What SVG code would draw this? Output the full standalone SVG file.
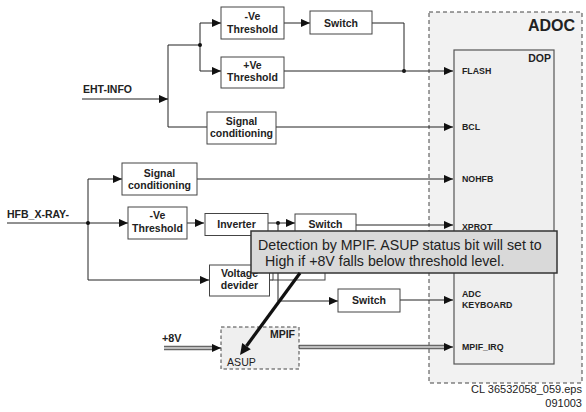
<svg xmlns="http://www.w3.org/2000/svg" width="586" height="412" viewBox="0 0 586 412">
<defs>
<marker id="arr" viewBox="0 0 10 10" refX="10" refY="5" markerWidth="9" markerHeight="9" markerUnits="userSpaceOnUse" orient="auto"><path d="M0,0.5 L10,5 L0,9.5 z" fill="#111"/></marker>
<style>
.t{font-family:"Liberation Sans",Arial,sans-serif;fill:#222}
.b{font-weight:bold;font-size:10.5px;text-anchor:middle}
.p{font-weight:bold;font-size:8.8px}
.box{fill:#fff;stroke:#444;stroke-width:1}
.ln{fill:none;stroke:#222;stroke-width:1}
.gw{fill:none;stroke:#666;stroke-width:4.5}
.gi{fill:none;stroke:#bdbdbd;stroke-width:1.8}
</style>
</defs>
<rect width="586" height="412" fill="#fff"/>
<g id="adoc">
<rect x="429" y="12" width="153" height="371" fill="#f2f2f2" stroke="#444" stroke-width="1" stroke-dasharray="4,3"/>
<text class="t" x="575" y="31" font-size="16" font-weight="bold" text-anchor="end">ADOC</text>
</g>
<g id="dop">
<rect x="454" y="50" width="100" height="314" fill="#efefef" stroke="#555" stroke-width="1.2"/>
<text class="t" x="551" y="62" font-size="10.5" font-weight="bold" text-anchor="end">DOP</text>
<text class="t p" x="462" y="74">FLASH</text>
<text class="t p" x="462" y="130">BCL</text>
<text class="t p" x="462" y="182">NOHFB</text>
<text class="t p" x="462" y="230">XPROT</text>
<text class="t p" x="462" y="297">ADC</text>
<text class="t p" x="462" y="308">KEYBOARD</text>
<text class="t p" x="462" y="350">MPIF_IRQ</text>
</g>
<g id="connectors">
<path class="ln" d="M82,99 H168" marker-end="url(#arr)"/>
<path class="ln" d="M168,45 V127 H207"/>
<path class="ln" d="M168,45 H200"/>
<path class="ln" d="M200,23 V71"/>
<path class="ln" d="M200,23 H221" marker-end="url(#arr)"/>
<path class="ln" d="M200,71 H221" marker-end="url(#arr)"/>
<circle cx="200" cy="45" r="2" fill="#111"/>
<path class="ln" d="M284,23 H310" marker-end="url(#arr)"/>
<path class="ln" d="M372,23 H404 V71"/>
<circle cx="404" cy="71" r="2" fill="#111"/>
<path class="ln" d="M284,71 H453" marker-end="url(#arr)"/>
<path class="ln" d="M276,127 H453" marker-end="url(#arr)"/>
<path class="ln" d="M7,223 H88"/>
<path class="ln" d="M88,179 V280"/>
<path class="ln" d="M88,179 H122" marker-end="url(#arr)"/>
<path class="ln" d="M88,223 H128" marker-end="url(#arr)"/>
<path class="ln" d="M88,280 H209" marker-end="url(#arr)"/>
<circle cx="88" cy="223" r="2" fill="#111"/>
<path class="ln" d="M197,179 H453" marker-end="url(#arr)"/>
<path class="ln" d="M187,223 H204" marker-end="url(#arr)"/>
<path class="ln" d="M268,223 H295" marker-end="url(#arr)"/>
<circle cx="278" cy="223" r="2" fill="#111"/>
<path class="ln" d="M356,225 H453" marker-end="url(#arr)"/>
<path class="ln" d="M278,223 V301 H338" marker-end="url(#arr)"/>
<path class="ln" d="M270,280 H273"/>
<path class="ln" d="M400,300 H453" marker-end="url(#arr)"/>
<path class="gw" d="M164,348 H213"/>
<path class="gi" d="M164,348 H213"/>
<path class="ln" d="M212,348 H221" marker-end="url(#arr)"/>
<path class="gw" d="M299,347 H445"/>
<path class="gi" d="M299,347 H445"/>
<path class="ln" d="M444,347 H453" marker-end="url(#arr)"/>
</g>
<g id="eht-info"><text class="t" x="83" y="93" font-size="10.5" font-weight="bold">EHT-INFO</text></g>
<g id="neg-threshold-1"><rect class="box" x="221" y="7" width="63" height="32"/><text class="t b" x="252.5" y="20">-Ve</text><text class="t b" x="252.5" y="32.5">Threshold</text></g>
<g id="pos-threshold-1"><rect class="box" x="221" y="57" width="63" height="31"/><text class="t b" x="252.5" y="68.5">+Ve</text><text class="t b" x="252.5" y="81">Threshold</text></g>
<g id="switch-1"><rect class="box" x="310" y="11" width="62" height="23"/><text class="t b" x="341" y="26.5">Switch</text></g>
<g id="signal-cond-1"><rect class="box" x="207" y="112" width="69" height="32"/><text class="t b" x="241.5" y="125">Signal</text><text class="t b" x="241.5" y="137">conditioning</text></g>
<g id="hfb-xray"><text class="t" x="7" y="218" font-size="10.5" font-weight="bold">HFB_X-RAY-</text></g>
<g id="signal-cond-2"><rect class="box" x="122" y="163" width="75" height="32"/><text class="t b" x="159.5" y="177">Signal</text><text class="t b" x="159.5" y="189">conditioning</text></g>
<g id="neg-threshold-2"><rect class="box" x="128" y="207" width="59" height="32"/><text class="t b" x="157.5" y="218.5">-Ve</text><text class="t b" x="157.5" y="232">Threshold</text></g>
<g id="inverter"><rect class="box" x="205" y="213.5" width="63" height="22"/><text class="t b" x="236.5" y="227.5">Inverter</text></g>
<g id="switch-2"><rect class="box" x="295" y="214" width="61" height="23"/><text class="t b" x="325.5" y="228">Switch</text></g>
<g id="hidden-block"><rect x="273" y="240" width="52" height="40" fill="none" stroke="#444" stroke-width="1"/></g>
<g id="voltage-devider"><rect class="box" x="209.5" y="265" width="60" height="31"/><text class="t b" x="239.5" y="277">Voltage</text><text class="t b" x="239.5" y="289">devider</text></g>
<g id="switch-3"><rect class="box" x="338" y="289" width="62" height="23"/><text class="t b" x="369" y="304">Switch</text></g>
<g id="plus8v"><text class="t" x="162" y="342" font-size="10.8" font-weight="bold">+8V</text></g>
<g id="mpif">
<rect x="221" y="327" width="78" height="42" fill="#efefef" stroke="#444" stroke-width="1" stroke-dasharray="3.5,2.5"/>
<text class="t" x="295" y="338" font-size="10.5" font-weight="bold" text-anchor="end">MPIF</text>
<text class="t" x="227" y="366" font-size="10.6">ASUP</text>
</g>
<g id="callout">
<rect x="251" y="231" width="306" height="42" fill="#d9d9d9" stroke="#333" stroke-width="1.5"/>
<text class="t" x="258" y="250" font-size="14.2">Detection by MPIF. ASUP status bit will set to</text>
<text class="t" x="265" y="266" font-size="14.2">High if +8V falls below threshold level.</text>
<path d="M300,273 L246.5,346" stroke="#111" stroke-width="3.2" fill="none"/>
<polygon points="240,355 250.8,349.2 242.2,342.9" fill="#111"/>
</g>
<g id="footer">
<text class="t" x="582" y="393" font-size="11" text-anchor="end">CL 36532058_059.eps</text>
<text class="t" x="582" y="407" font-size="11" text-anchor="end">091003</text>
</g>
</svg>
